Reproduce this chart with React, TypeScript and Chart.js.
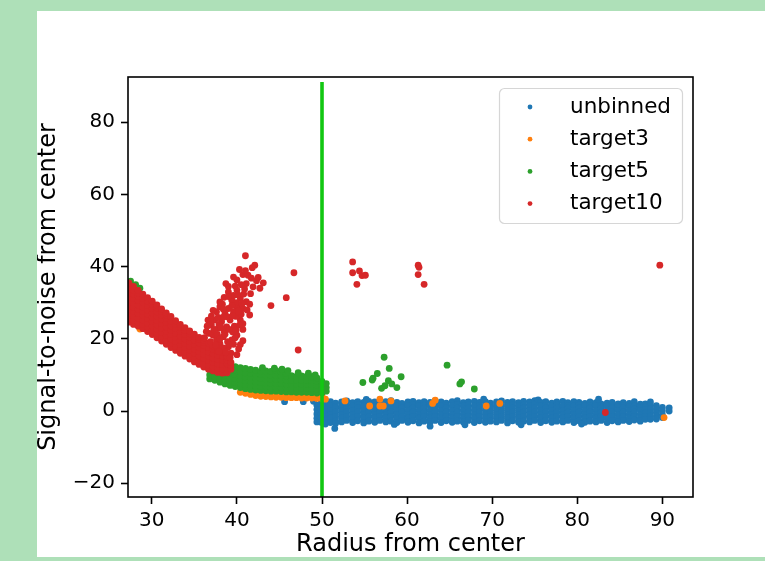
import { useEffect, useRef } from 'react';
import { Chart, registerables } from 'chart.js';

Chart.register(...registerables);

// ---------- data ----------
const seriesLabels = ['unbinned', 'target3', 'target5', 'target10'];
const seriesColors = ['#1f77b4', '#ff7f0e', '#2ca02c', '#d62728'];
const xTicks = [30, 40, 50, 60, 70, 80, 90];
const yTicks = [-20, 0, 20, 40, 60, 80];
const xLimits = [27.2, 93.6];
const yLimits = [-23.8, 92.5];
const cutRadius = 50;
const cutLineSpan = [-23.8, 91.1];

// unbinned: columns of [radius, [S/N values]]
const unbinnedBand: [number, number[]][] = [
  [49.4, [1.6, 0.4, -0.8, -2.0, -3.0]],
  [49.9, [2.9, 1.6, 0.4, -0.8, -2.0, -3.1]],
  [50.4, [3.0, 2.0, 0.8, -0.3, -1.5, -2.7, -3.6]],
  [51.0, [2.6, 1.4, 0.2, -0.9, -2.0, -3.2]],
  [51.6, [2.2, 1.2, 0.8, -0.3, -1.5, -2.7, -3.4]],
  [52.3, [2.5, 1.4, 0.2, -0.9, -2.0, -3.0]],
  [52.9, [2.8, 1.7, 0.8, -0.3, -1.5, -2.6]],
  [53.6, [2.3, 1.4, 0.2, -0.9, -2.0, -3.2]],
  [54.2, [2.6, 1.6, 0.8, -0.3, -1.5, -2.7]],
  [54.9, [2.4, 1.4, 0.2, -0.9, -2.0, -3.3]],
  [55.5, [2.7, 1.8, 0.8, -0.3, -1.5, -2.8]],
  [56.2, [2.5, 1.4, 0.2, -0.9, -2.0, -3.1]],
  [56.8, [2.2, 1.5, 0.8, -0.3, -1.5, -2.6]],
  [57.5, [2.6, 1.4, 0.2, -0.9, -2.0, -3.0]],
  [58.1, [2.9, 1.8, 0.8, -0.3, -1.5, -2.8]],
  [58.8, [2.4, 1.4, 0.2, -0.9, -2.0, -3.2]],
  [59.4, [2.1, 1.3, 0.8, -0.3, -1.5, -2.6]],
  [60.1, [2.5, 1.4, 0.2, -0.9, -2.0, -3.1]],
  [60.7, [2.7, 1.7, 0.8, -0.3, -1.5, -2.7]],
  [61.4, [2.3, 1.4, 0.2, -0.9, -2.0, -3.3]],
  [62.0, [2.6, 1.6, 0.8, -0.3, -1.5, -2.8]],
  [62.7, [2.4, 1.4, 0.2, -0.9, -2.0, -3.0]],
  [63.3, [2.8, 1.8, 0.8, -0.3, -1.5, -2.6]],
  [64.0, [2.5, 1.4, 0.2, -0.9, -2.0, -3.2]],
  [64.6, [2.2, 1.4, 0.8, -0.3, -1.5, -2.7]],
  [65.3, [2.6, 1.4, 0.2, -0.9, -2.0, -3.1]],
  [65.9, [2.9, 1.8, 0.8, -0.3, -1.5, -2.8]],
  [66.6, [2.3, 1.4, 0.2, -0.9, -2.0, -3.0]],
  [67.2, [2.5, 1.6, 0.8, -0.3, -1.5, -2.6]],
  [67.9, [2.7, 1.4, 0.2, -0.9, -2.0, -3.2]],
  [68.5, [2.4, 1.5, 0.8, -0.3, -1.5, -2.7]],
  [69.2, [2.6, 1.4, 0.2, -0.9, -2.0, -3.1]],
  [69.8, [2.2, 1.4, 0.8, -0.3, -1.5, -2.8]],
  [70.5, [2.5, 1.4, 0.2, -0.9, -2.0, -3.0]],
  [71.1, [2.8, 1.7, 0.8, -0.3, -1.5, -2.6]],
  [71.8, [2.4, 1.4, 0.2, -0.9, -2.0, -3.3]],
  [72.4, [2.6, 1.6, 0.8, -0.3, -1.5, -2.7]],
  [73.1, [2.3, 1.4, 0.2, -0.9, -2.0, -3.1]],
  [73.7, [2.7, 1.8, 0.8, -0.3, -1.5, -2.8]],
  [74.4, [2.5, 1.4, 0.2, -0.9, -2.0, -3.0]],
  [75.0, [2.9, 1.9, 0.8, -0.3, -1.5, -2.6]],
  [75.4, [3.1]],
  [75.7, [2.4, 1.4, 0.2, -0.9, -2.0, -3.2]],
  [76.3, [2.6, 1.5, 0.8, -0.3, -1.5, -2.7]],
  [77.0, [2.2, 1.4, 0.2, -0.9, -2.0, -3.1]],
  [77.6, [2.5, 1.6, 0.8, -0.3, -1.5, -2.8]],
  [78.3, [2.7, 1.4, 0.2, -0.9, -2.0, -3.0]],
  [78.9, [2.3, 1.4, 0.8, -0.3, -1.5, -2.6]],
  [79.6, [2.6, 1.4, 0.2, -0.9, -2.0, -3.2]],
  [80.2, [2.4, 1.6, 0.8, -0.3, -1.5, -2.7]],
  [80.9, [2.1, 1.4, 0.2, -0.9, -2.0, -3.1]],
  [81.5, [2.5, 1.5, 0.8, -0.3, -1.5, -2.8]],
  [82.2, [2.3, 1.4, 0.2, -0.9, -2.0, -3.0]],
  [82.8, [2.0, 1.2, 0.8, -0.3, -1.5, -2.6]],
  [83.5, [2.2, 1.4, 0.2, -0.9, -2.0, -3.2]],
  [84.1, [2.4, 1.3, 0.8, -0.3, -1.5, -2.7]],
  [84.8, [2.0, 1.2, 0.2, -0.9, -2.0, -3.0]],
  [85.4, [2.3, 1.4, 0.8, -0.3, -1.5, -2.6]],
  [86.1, [2.1, 1.2, 0.2, -0.9, -2.0, -2.9]],
  [86.7, [2.6, 1.4, 0.6, -0.3, -1.5, -2.5]],
  [87.4, [1.9, 1.0, 0.2, -0.9, -2.0, -2.8]],
  [88.0, [2.0, 1.1, 0.4, -0.5, -1.5, -2.3]],
  [88.6, [2.5, 1.6, 0.6, -0.4, -1.4, -2.3]],
  [89.3, [1.5, 0.6, -0.4, -1.4, -2.2]],
  [90.0, [1.0, 0.1, -1.0, -1.8]],
  [90.8, [0.9, 0.0]],
];
const unbinnedExtra: [number, number][] = [
  [51.5, -4.8], [62.7, -4.2], [66.8, -3.8], [58.5, -3.7], [73.4, -3.8], [80.5, -3.6],
  [45.6, 2.6], [47.8, 2.6], [49.0, 2.7], [55.2, 3.2], [69.0, 3.3], [82.5, 3.3],
];

const target3Band: [number, number[]][] = [
  [40.4, [5.2]], [41.0, [4.9]], [41.6, [4.6]],
  [42.2, [4.3, 5.2]], [42.8, [4.1, 5.0]], [43.4, [4.0, 4.9]], [44.0, [3.9, 4.8]],
  [44.6, [3.8, 4.7]], [45.2, [3.8, 4.6]], [45.8, [3.7, 4.5]], [46.4, [3.7, 4.5]],
  [47.0, [3.7, 4.5]], [47.6, [3.6, 4.4]], [48.2, [3.6, 4.4]], [48.8, [3.6, 4.3]],
  [49.4, [3.5, 4.3]], [50.0, [3.4, 4.2]], [50.4, [3.3]],
];
const target3Extra: [number, number][] = [
  [28.6, 22.7], [52.7, 2.8], [56.8, 3.3], [55.6, 1.4], [56.8, 1.4], [57.2, 1.4],
  [58.1, 2.8], [63.0, 2.1], [63.3, 3.0], [69.3, 1.4], [70.9, 2.1], [90.2, -1.8],
];

const target5Band: [number, number[]][] = [
  [36.8, [8.9, 10.0]],
  [37.4, [8.5, 9.6]],
  [38.0, [8.0, 9.1, 10.2, 11.3, 12.4, 13.3]],
  [38.6, [7.5, 8.6, 9.7, 10.8, 11.9, 12.9]],
  [39.2, [7.1, 8.2, 9.3, 10.4, 11.5, 12.6, 13.3]],
  [39.8, [6.8, 7.9, 9.0, 10.1, 11.2, 12.3]],
  [40.4, [6.5, 7.6, 8.7, 9.8, 10.9, 12.0]],
  [41.0, [6.2, 7.3, 8.4, 9.5, 10.6, 11.8]],
  [41.6, [6.0, 7.1, 8.2, 9.3, 10.4, 11.5]],
  [42.2, [5.8, 6.9, 8.0, 9.1, 10.2, 11.3]],
  [42.8, [5.7, 6.8, 7.9, 9.0, 10.1, 11.0]],
  [43.4, [5.6, 6.7, 7.8, 8.9, 10.0, 11.1]],
  [44.0, [5.5, 6.6, 7.7, 8.8, 9.9, 11.0]],
  [44.6, [5.5, 6.6, 7.7, 8.8, 9.9, 11.2]],
  [45.2, [5.4, 6.5, 7.6, 8.7, 9.8, 10.9]],
  [45.8, [5.3, 6.4, 7.5, 8.6, 9.7, 10.4]],
  [46.4, [5.3, 6.4, 7.5, 8.6, 9.8]],
  [47.0, [5.2, 6.3, 7.4, 8.5, 9.6]],
  [47.6, [5.2, 6.3, 7.4, 8.5, 9.7]],
  [48.2, [5.2, 6.3, 7.4, 8.5, 9.6]],
  [48.8, [5.1, 6.2, 7.3, 8.4, 9.5]],
  [49.4, [5.0, 6.1, 7.2, 8.3, 9.2]],
  [50.0, [5.1, 6.2, 7.3, 8.2]],
  [50.5, [5.5, 6.5, 7.6]],
];
const target5Extra: [number, number][] = [
  [27.5, 36.0], [28.1, 35.0], [28.6, 34.0],
  [43.0, 12.0], [44.4, 11.9], [45.3, 11.6], [46.0, 11.2], [47.2, 10.6], [48.4, 10.5], [49.2, 10.0],
  [57.3, 14.9], [57.9, 11.8], [54.8, 7.9], [55.9, 8.6], [56.0, 9.1], [56.5, 10.4], [59.3, 9.5],
  [57.8, 8.4], [58.2, 7.5], [58.8, 6.5], [57.0, 6.3], [57.4, 7.0],
  [64.7, 12.7], [66.2, 7.5], [66.4, 8.1], [67.9, 6.1],
];

const target10Band: [number, number[]][] = [
  [27.3, [24.6, 25.8, 27.0, 28.2, 29.4, 30.6, 31.8, 33.0, 34.2, 35.5]],
  [27.85, [24.0, 25.2, 26.4, 27.6, 28.8, 30.0, 31.2, 32.4, 33.5, 34.5]],
  [28.4, [23.5, 24.6, 25.8, 27.0, 28.2, 29.4, 30.6, 31.8, 32.7, 33.4]],
  [28.95, [22.8, 24.0, 25.2, 26.4, 27.6, 28.8, 30.0, 31.2, 32.4]],
  [29.5, [22.0, 23.2, 24.4, 25.6, 26.8, 28.0, 29.2, 30.4, 31.4]],
  [30.05, [21.2, 22.4, 23.6, 24.8, 26.0, 27.2, 28.4, 29.5, 30.4]],
  [30.6, [20.3, 21.5, 22.7, 23.9, 25.1, 26.3, 27.5, 28.6, 29.4]],
  [31.15, [19.4, 20.6, 21.8, 23.0, 24.2, 25.4, 26.6, 27.6, 28.3]],
  [31.7, [18.5, 19.7, 20.9, 22.1, 23.3, 24.5, 25.7, 26.6, 27.2]],
  [32.25, [17.6, 18.8, 20.0, 21.2, 22.4, 23.6, 24.8, 26.2]],
  [32.8, [16.8, 18.0, 19.2, 20.4, 21.6, 22.8, 24.0, 25.0]],
  [33.35, [16.0, 17.2, 18.4, 19.6, 20.8, 22.0, 23.2, 24.0]],
  [33.9, [15.2, 16.4, 17.6, 18.8, 20.0, 21.2, 22.3, 23.1]],
  [34.45, [14.4, 15.6, 16.8, 18.0, 19.2, 20.4, 21.4, 22.2]],
  [35.0, [13.6, 14.8, 16.0, 17.2, 18.4, 19.6, 20.6, 21.3]],
  [35.55, [12.9, 14.1, 15.3, 16.5, 17.7, 18.9, 19.8, 20.4]],
  [36.1, [12.2, 13.4, 14.6, 15.8, 17.0, 18.2, 19.0, 19.6]],
  [36.65, [11.6, 12.8, 14.0, 15.2, 16.4, 17.6, 18.8]],
  [37.2, [11.1, 12.3, 13.5, 14.7, 15.9, 17.1, 18.0]],
  [37.75, [10.7, 11.9, 13.1, 14.3, 15.5, 16.6, 17.2]],
  [38.3, [10.5, 11.7, 12.9, 14.1, 15.2, 16.2]],
  [38.85, [10.6, 11.8, 13.0, 14.1, 15.0]],
  [39.3, [11.6, 12.6, 13.5]],
];
const target10Plume: [number, number][] = [
  [41.0, 43.0], [42.1, 40.4], [41.8, 39.7], [40.7, 37.8], [41.3, 37.6], [40.0, 36.3],
  [38.7, 35.3], [42.3, 36.1], [43.1, 35.5], [39.0, 33.0], [41.1, 35.3], [40.0, 33.5],
  [41.9, 34.4], [42.7, 34.0], [38.5, 31.5], [39.4, 30.7], [40.4, 31.2], [41.1, 30.3],
  [38.0, 28.9], [39.0, 28.4], [40.0, 28.9], [40.7, 28.4], [37.6, 27.5], [38.6, 27.0],
  [39.6, 27.5], [41.5, 26.6], [36.6, 25.2], [37.4, 25.2], [38.2, 24.7], [39.2, 25.2],
  [40.4, 25.2], [37.8, 22.9], [38.8, 23.3], [40.7, 22.6], [36.4, 22.0], [37.2, 21.0],
  [38.4, 20.6], [40.0, 21.0], [36.2, 20.3], [37.6, 19.7], [39.4, 19.7], [40.7, 19.5],
  [38.0, 18.7], [39.0, 17.8], [37.0, 23.8], [37.9, 24.0], [38.5, 22.0], [39.7, 23.5],
  [39.9, 26.2], [38.3, 29.6], [36.9, 19.2], [37.5, 18.3], [38.4, 17.5], [39.3, 16.0],
  [39.6, 18.5], [40.2, 17.2], [38.9, 19.2], [40.7, 24.2], [41.2, 28.0], [41.6, 32.5],
  [42.5, 37.0], [40.9, 33.8], [41.5, 29.6], [39.5, 21.9], [38.9, 26.1], [39.9, 30.0],
  [39.6, 32.0], [40.5, 26.8], [39.2, 14.8], [38.7, 16.3], [37.0, 26.3], [39.0, 34.5],
  [36.8, 21.5], [37.3, 22.6], [37.7, 21.2], [38.1, 23.2], [38.6, 21.3], [39.1, 22.6],
  [39.9, 22.4], [40.3, 23.8], [36.9, 24.6], [37.8, 25.9], [38.4, 26.0], [39.5, 26.4],
  [40.2, 27.7], [38.4, 28.2], [39.4, 29.2], [40.6, 29.8], [39.0, 31.7], [40.1, 32.2],
  [40.8, 32.4], [39.8, 34.6], [40.5, 35.0], [41.7, 36.8], [41.0, 38.9], [39.6, 37.1],
  [40.3, 39.2], [37.2, 27.9], [38.0, 30.2], [36.5, 23.5], [38.0, 20.0], [39.8, 20.3],
  [40.4, 18.4], [39.1, 18.4], [37.9, 16.5], [40.0, 15.6],
];
const target10Extra: [number, number][] = [
  [46.7, 38.3], [45.8, 31.4], [44.0, 29.2], [47.2, 16.9],
  [53.6, 41.3], [53.6, 38.3], [54.4, 38.8], [54.1, 35.1], [54.7, 37.5], [55.1, 37.6],
  [61.3, 40.4], [61.4, 39.8], [61.3, 37.8], [62.0, 35.1], [89.7, 40.4], [83.3, -0.4],
];

// ---------- helpers ----------
const fromColumns = (cols: [number, number[]][]) =>
  cols.flatMap(([x, ys]) => ys.map((y) => ({ x, y })));
const fromPairs = (pairs: [number, number][]) => pairs.map(([x, y]) => ({ x, y }));

const FONT = '"DejaVu Sans", "Liberation Sans", sans-serif';
const fmt = (v: number) => (v < 0 ? '\u2212' + Math.abs(v) : String(v));

export default function App() {
  const ref = useRef<HTMLCanvasElement>(null);

  useEffect(() => {
    const canvas = ref.current;
    if (!canvas) return;

    const framePlugin = {
      id: 'mplFrame',
      afterDatasetsDraw(chart: any) {
        const { ctx, chartArea: a } = chart;
        ctx.save();
        ctx.strokeStyle = '#000';
        ctx.lineWidth = 1.6;
        ctx.strokeRect(a.left, a.top, a.right - a.left, a.bottom - a.top);
        ctx.restore();
      },
    };

    const legendPlugin = {
      id: 'mplLegend',
      afterDraw(chart: any) {
        const { ctx, chartArea } = chart;
        const items = chart.data.datasets.slice(0, seriesLabels.length);
        const w = 183;
        const h = 135;
        const left = chartArea.right - 11 - w;
        const top = chartArea.top + 11;
        ctx.save();
        ctx.beginPath();
        ctx.roundRect(left + 0.5, top + 0.5, w, h, 5);
        ctx.fillStyle = 'rgba(255,255,255,0.8)';
        ctx.fill();
        ctx.strokeStyle = '#d6d6d6';
        ctx.lineWidth = 1.2;
        ctx.stroke();
        ctx.font = '21.5px ' + FONT;
        ctx.textBaseline = 'middle';
        ctx.textAlign = 'left';
        items.forEach((ds: any, i: number) => {
          const cy = top + 19 + i * 32.2;
          ctx.fillStyle = ds.backgroundColor;
          ctx.beginPath();
          ctx.arc(left + 31, cy, 2.4, 0, Math.PI * 2);
          ctx.fill();
          ctx.fillStyle = '#000';
          ctx.fillText(ds.label, left + 71, cy);
        });
        ctx.restore();
      },
    };

    const seriesData = [
      [...fromColumns(unbinnedBand), ...fromPairs(unbinnedExtra)],
      [...fromColumns(target3Band), ...fromPairs(target3Extra)],
      [...fromColumns(target5Band), ...fromPairs(target5Extra)],
      [...fromColumns(target10Band), ...fromPairs(target10Plume), ...fromPairs(target10Extra)],
    ];

    const datasets: any[] = seriesLabels.map((label, i) => ({
      label,
      data: seriesData[i],
      backgroundColor: seriesColors[i],
      borderWidth: 0,
      pointRadius: 3.4,
      pointHoverRadius: 3.4,
      order: seriesLabels.length - i,
      clip: 0,
    }));
    datasets.push({
      label: '',
      data: [
        { x: cutRadius, y: cutLineSpan[0] },
        { x: cutRadius, y: cutLineSpan[1] },
      ],
      showLine: true,
      borderColor: '#12c712',
      backgroundColor: '#12c712',
      borderWidth: 3.6,
      pointRadius: 0,
      order: 0,
      clip: 0,
    });

    const tickFont = { family: FONT, size: 20 };
    const titleFont = { family: FONT, size: 24, lineHeight: 1 };

    const chart = new Chart(canvas, {
      type: 'scatter',
      data: { datasets },
      options: {
        animation: false,
        responsive: false,
        events: [],
        layout: { padding: { top: 66, right: 72, left: 0, bottom: 0 } },
        plugins: { legend: { display: false }, tooltip: { enabled: false } },
        scales: {
          x: {
            type: 'linear',
            min: xLimits[0],
            max: xLimits[1],
            afterBuildTicks: (scale: any) => {
              scale.ticks = xTicks.map((v) => ({ value: v }));
            },
            afterFit: (scale: any) => {
              scale.height = 60;
            },
            ticks: {
              font: tickFont,
              color: '#000',
              padding: 5,
              maxRotation: 0,
              autoSkip: false,
              callback: (v: any) => fmt(Number(v)),
            },
            grid: {
              display: true,
              drawOnChartArea: false,
              drawTicks: true,
              tickLength: 7,
              tickWidth: 1.6,
              tickColor: '#000',
              color: '#000',
            },
            border: { display: false },
            title: {
              display: true,
              text: 'Radius from center',
              color: '#000',
              font: titleFont,
              padding: { top: 0, bottom: 0 },
            },
          },
          y: {
            type: 'linear',
            min: yLimits[0],
            max: yLimits[1],
            afterBuildTicks: (scale: any) => {
              scale.ticks = yTicks.map((v) => ({ value: v }));
            },
            afterFit: (scale: any) => {
              scale.width = 91;
            },
            ticks: {
              font: tickFont,
              color: '#000',
              padding: 6,
              autoSkip: false,
              callback: (v: any) => fmt(Number(v)),
            },
            grid: {
              display: true,
              drawOnChartArea: false,
              drawTicks: true,
              tickLength: 7,
              tickWidth: 1.6,
              tickColor: '#000',
              color: '#000',
            },
            border: { display: false },
            title: {
              display: true,
              text: 'Signal-to-noise from center',
              color: '#000',
              font: titleFont,
              padding: { top: 0, bottom: 0 },
            },
          },
        },
      } as any,
      plugins: [framePlugin, legendPlugin],
    });

    return () => chart.destroy();
  }, []);

  return (
    <div
      style={{
        position: 'fixed',
        left: 0,
        top: 0,
        width: 765,
        height: 561,
        background: '#aee0b8',
        overflow: 'hidden',
      }}
    >
      <div
        style={{
          position: 'absolute',
          left: 37,
          top: 11,
          width: 728,
          height: 546,
          background: '#ffffff',
        }}
      >
        <canvas ref={ref} width={728} height={546} style={{ display: 'block', width: 728, height: 546 }} />
      </div>
    </div>
  );
}
